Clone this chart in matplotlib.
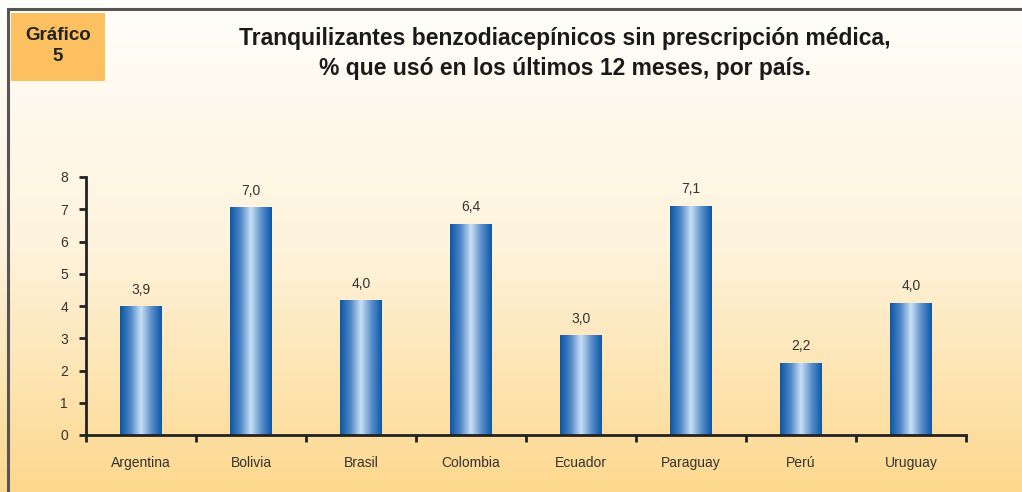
import numpy as np
import matplotlib
matplotlib.use("Agg")
import matplotlib.pyplot as plt
from matplotlib.colors import LinearSegmentedColormap
from matplotlib.patches import Rectangle

paises = ["Argentina", "Bolivia", "Brasil", "Colombia", "Ecuador", "Paraguay", "Perú", "Uruguay"]
alturas = [3.97, 7.04, 4.16, 6.54, 3.07, 7.10, 2.23, 4.09]
etiquetas = ["3,9", "7,0", "4,0", "6,4", "3,0", "7,1", "2,2", "4,0"]

plt.rcParams['font.family'] = ['Liberation Sans', 'DejaVu Sans']

fig = plt.figure(figsize=(10.22, 4.92), dpi=100)

# fondo degradado
bg = fig.add_axes([0, 0, 1, 1], zorder=-2)
fondo = LinearSegmentedColormap.from_list("fondo", ["#fffefb", "#fef3dc", "#fdd88e"])
bg.imshow(np.linspace(0, 1, 256).reshape(-1, 1), cmap=fondo, aspect='auto', extent=[0, 1, 0, 1])
bg.set_xlim(0, 1)
bg.set_ylim(0, 1)
bg.axis('off')
bg.add_patch(Rectangle((8/1022, -0.01), 1.02, 1 - 9/492 + 0.01, fill=False, ec="#555555", lw=2.2))
bg.add_patch(Rectangle((11/1022, 1 - 81/492), 94/1022, 68/492, fc="#fdc060", ec="none"))
bg.text(58/1022, 1 - 46/492, "Gráfico\n5", ha='center', va='center', fontsize=13.5,
        fontweight='bold', color="#222222", linespacing=1.3)
fig.text(565/1022, 1 - 38/492, "Tranquilizantes benzodiacepínicos sin prescripción médica,",
         ha='center', va='center', fontsize=16.5, fontweight='bold', color="#1a1a1a")
fig.text(565/1022, 1 - 68/492, "% que usó en los últimos 12 meses, por país.",
         ha='center', va='center', fontsize=16.5, fontweight='bold', color="#1a1a1a")

ax = fig.add_axes([86/1022, 1 - 435/492, 880/1022, 258/492])
ax.patch.set_alpha(0)
x = np.arange(len(paises))
ancho = 0.38
barras = ax.bar(x, alturas, width=ancho, color="none")

azul = LinearSegmentedColormap.from_list("azul", ["#0a56a6", "#4f86c6", "#c9e0f6", "#5b8fcb", "#0b58a8"])
grad = np.linspace(0, 1, 256).reshape(1, -1)
for b, lab in zip(barras, etiquetas):
    x0 = b.get_x()
    w = b.get_width()
    h = b.get_height()
    ax.imshow(grad, cmap=azul, aspect='auto', extent=[x0, x0 + w, 0, h], zorder=2)
    ax.text(x0 + w / 2, h + 0.3, lab, ha='center', va='bottom', fontsize=10, color="#333333")

ax.set_xlim(-0.5, len(paises) - 0.5)
ax.set_ylim(0, 8)
ax.set_yticks(range(0, 9))
ax.set_xticks(np.arange(-0.5, len(paises), 1.0))
ax.set_xticklabels([])
ax.set_xticks(x, minor=True)
ax.set_xticklabels(paises, minor=True)
ax.tick_params(axis='x', which='major', direction='out', length=5, width=2, color="#222222")
ax.tick_params(axis='x', which='minor', length=0, pad=15, labelsize=10, labelcolor="#333333")
ax.tick_params(axis='y', direction='out', length=5, width=2, color="#222222", labelsize=10, labelcolor="#333333", pad=8)
for s in ['top', 'right']:
    ax.spines[s].set_visible(False)
for s in ['left', 'bottom']:
    ax.spines[s].set_linewidth(2)
    ax.spines[s].set_color("#222222")

fig.savefig("out.png", dpi=100)
